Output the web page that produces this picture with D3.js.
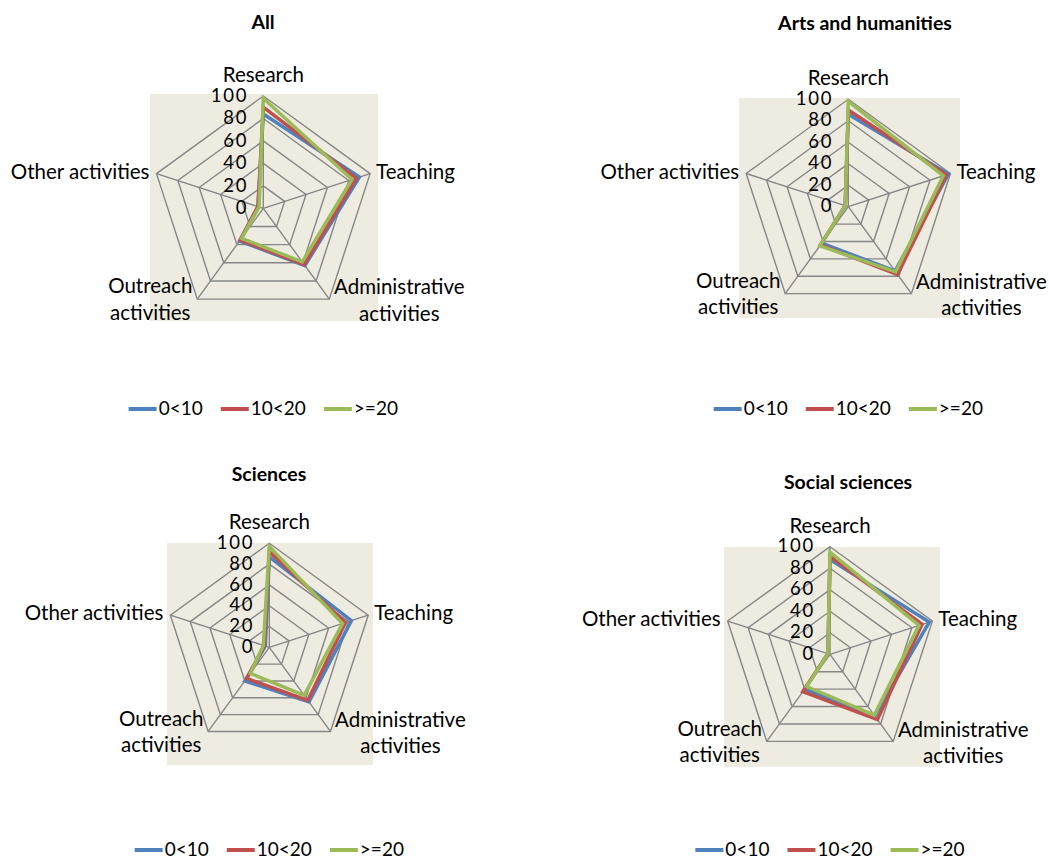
<!DOCTYPE html>
<html><head><meta charset="utf-8">
<script src="https://cdn.jsdelivr.net/npm/d3@7"></script>
<style>
html,body{margin:0;padding:0;background:#fff;}
svg{display:block;}
text{font-family:Lato,"Open Sans",sans-serif;fill:#000;}
</style></head>
<body>
<svg id="chart" width="1049" height="863"></svg>
<script>
// ---- data ----
const categories = ["Research", "Teaching", "Administrative activities", "Outreach activities", "Other activities"];
const categoryLabelLines = [["Research"], ["Teaching"], ["Administrative", "activities"], ["Outreach", "activities"], ["Other activities"]];
const seriesNames = ["0<10", "10<20", ">=20"];
const seriesColors = ["#4F81BD", "#C0504D", "#9BBB59"];
const tickValues = [0, 20, 40, 60, 80, 100];
const panelTitles = ["All", "Arts and humanities", "Sciences", "Social sciences"];

const allValues = [
  [84, 90, 63, 36, 5],
  [90, 87, 62, 35, 5],
  [98, 83, 59, 33, 4]
];
const artsValues = [
  [86, 98, 74, 42, 3],
  [90, 96, 78, 44, 3],
  [98, 93, 75, 45, 3]
];
const sciencesValues = [
  [87, 83, 65, 40, 4],
  [92, 77, 63, 37, 5],
  [97, 74, 57, 31, 6]
];
const socialValues = [
  [88, 97, 71, 40, 2],
  [91, 90, 75, 43, 2],
  [95, 87, 70, 37, 2]
];
const panelData = [allValues, artsValues, sciencesValues, socialValues];

// ---- layout (not data) ----
const panels = [
  {cx: 263.3, cy: 208.3, R: 112.3, titleX: 263, titleY: 24, legendY: 409, bg: [150, 94, 378, 321]},
  {cx: 848.3, cy: 206.7, R: 107.4, titleX: 865, titleY: 25, legendY: 409, bg: [739, 98, 960, 318]},
  {cx: 269.3, cy: 647.3, R: 104,   titleX: 269, titleY: 476, legendY: 850, bg: [167, 543, 373, 765]},
  {cx: 830,   cy: 654.3, R: 107.6, titleX: 848, titleY: 484, legendY: 850, bg: [724, 547, 940, 767]}
];

const svg = d3.select("#chart");
const FS = 20.5;   // category labels
const TFS = 18.5;  // tick labels
const LFS = 19;    // legend

panels.forEach((p, pi) => {
  const g = svg.append("g");
  const r = d3.scaleLinear().domain([0, 100]).range([0, p.R]);
  const angle = d3.scaleLinear().domain([0, categories.length]).range([0, 2 * Math.PI]);
  const pt = (i, v) => [p.cx + r(v) * Math.sin(angle(i)), p.cy - r(v) * Math.cos(angle(i))];

  // plot area
  g.append("rect").attr("x", p.bg[0]).attr("y", p.bg[1])
    .attr("width", p.bg[2] - p.bg[0]).attr("height", p.bg[3] - p.bg[1])
    .attr("fill", "#EEECE1");

  // title
  g.append("text").attr("x", p.titleX).attr("y", p.titleY)
    .attr("text-anchor", "middle").attr("dominant-baseline", "middle")
    .attr("font-weight", "bold").attr("font-size", 19.5)
    .text(panelTitles[pi]);

  // grid rings
  tickValues.filter(t => t > 0).forEach(t => {
    g.append("path")
      .attr("d", d3.line()(categories.map((c, i) => pt(i, t))) + "Z")
      .attr("fill", "none").attr("stroke", "#868686").attr("stroke-width", 1.4);
  });
  // spokes
  categories.forEach((c, i) => {
    g.append("line").attr("x1", p.cx).attr("y1", p.cy)
      .attr("x2", pt(i, 100)[0]).attr("y2", pt(i, 100)[1])
      .attr("stroke", "#868686").attr("stroke-width", 1.4);
  });

  // series lines
  const radial = d3.lineRadial()
    .angle((d, i) => angle(i)).radius(d => r(d))
    .curve(d3.curveLinearClosed);
  panelData[pi].forEach((vals, si) => {
    g.append("path").attr("transform", `translate(${p.cx},${p.cy})`)
      .attr("d", radial(vals))
      .attr("fill", "none").attr("stroke", seriesColors[si])
      .attr("stroke-width", 3.5).attr("stroke-linejoin", "miter");
  });

  // tick labels
  tickValues.forEach(t => {
    g.append("text").attr("x", p.cx - 15).attr("y", p.cy - r(t) + 1)
      .attr("text-anchor", "end").attr("dominant-baseline", "middle")
      .attr("font-size", TFS).attr("letter-spacing", 1.8).text(t);
  });

  // category labels
  categoryLabelLines.forEach((lines, i) => {
    const [vx, vy] = pt(i, 100);
    let x, y0, anchor;
    if (i === 0) { x = vx; y0 = vy - 19; anchor = "middle"; }
    else if (i === 1) { x = vx + 6; y0 = vy; anchor = "start"; }
    else if (i === 2) { x = vx + 70; y0 = vy - 10; anchor = "middle"; }
    else if (i === 3) { x = vx - 47; y0 = vy - 11; anchor = "middle"; }
    else { x = vx - 7; y0 = vy; anchor = "end"; }
    lines.forEach((ln, li) => {
      g.append("text").attr("x", x).attr("y", y0 + li * 26.5)
        .attr("text-anchor", anchor).attr("dominant-baseline", "middle")
        .attr("font-size", FS).text(ln);
    });
  });

  // legend
  const lg = g.append("g");
  let cur = 0;
  seriesNames.forEach((s, si) => {
    const item = lg.append("g").attr("transform", `translate(${cur},0)`);
    item.append("line").attr("x1", 0).attr("x2", 28).attr("y1", 0).attr("y2", 0)
      .attr("stroke", seriesColors[si]).attr("stroke-width", 4);
    const t = item.append("text").attr("x", 30).attr("y", 1)
      .attr("dominant-baseline", "middle").attr("font-size", LFS).text(s);
    cur += 30 + t.node().getComputedTextLength() + 18;
  });
  const total = cur - 18;
  lg.attr("transform", `translate(${p.cx - total / 2},${p.legendY})`);
});
</script>
</body></html>
